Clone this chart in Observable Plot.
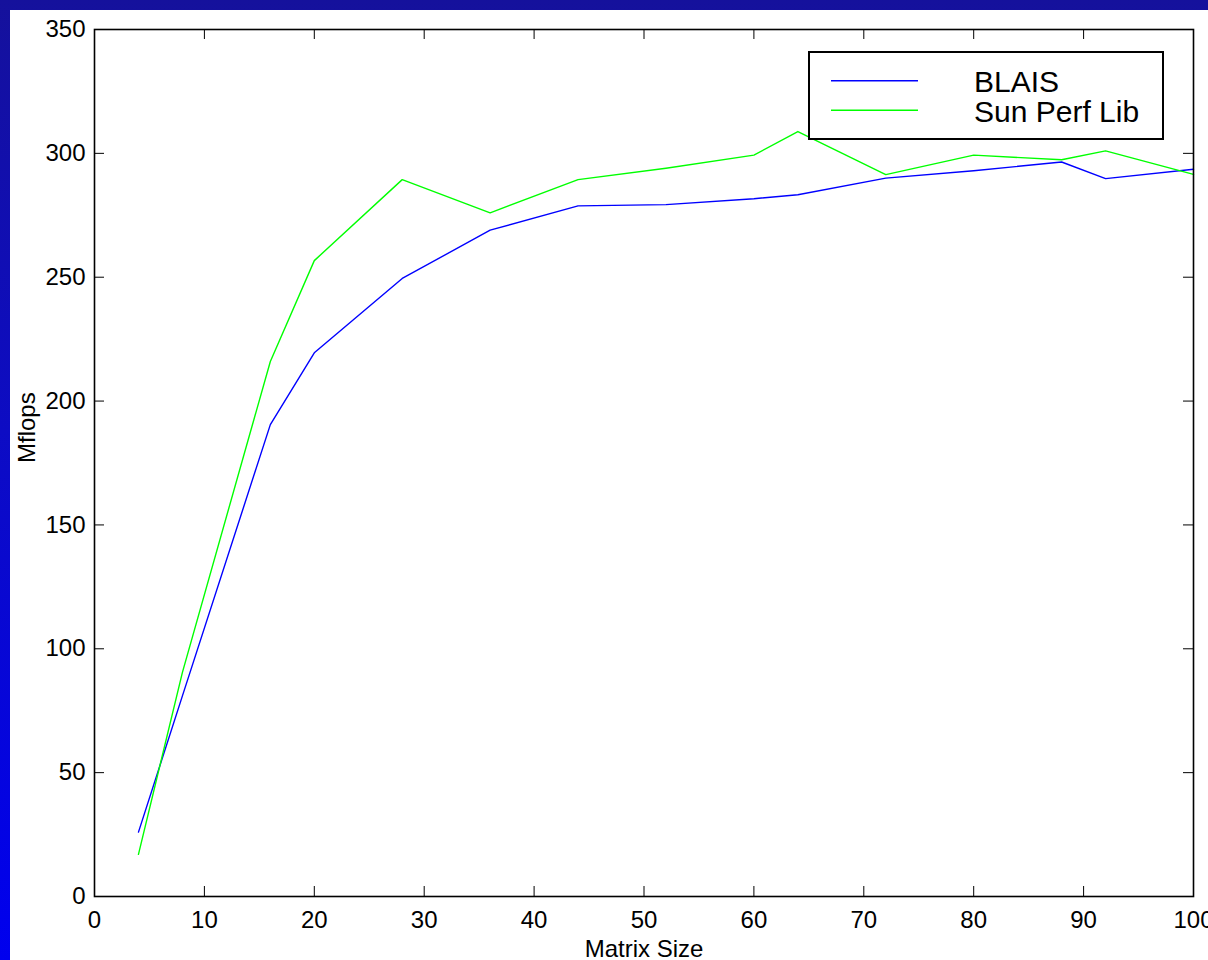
<!DOCTYPE html>
<html>
<head>
<meta charset="utf-8">
<script src="https://cdn.jsdelivr.net/npm/d3@7"></script>
<script src="https://cdn.jsdelivr.net/npm/@observablehq/plot@0.6"></script>
<style>
  html, body { margin: 0; padding: 0; }
  body {
    width: 1208px; height: 960px; overflow: hidden;
    background: linear-gradient(to bottom, #15119c 0%, #0d0cc4 45%, #0000ee 100%);
    position: relative;
    font-family: "Liberation Sans", Arial, Helvetica, sans-serif;
  }
  #chart { position: absolute; left: 10px; top: 10px; width: 1198px; height: 950px; background: white; }
  #legend {
    position: absolute; left: 808px; top: 51px; width: 356px; height: 89px;
    box-sizing: border-box; border: 2px solid black; background: white;
  }
</style>
</head>
<body>
<div id="chart"></div>
<div id="legend"></div>
<script>
// ---- data ----
const matrixSize = [4, 8, 16, 20, 28, 36, 44, 52, 60, 64, 72, 80, 88, 92, 100];
const blais      = [26, 81, 190.5, 219.5, 249.5, 269, 278.8, 279.3, 281.7, 283.3, 290, 293, 296.5, 289.8, 293.6];
const sunPerfLib = [17, 90.5, 216, 256.7, 289.4, 276, 289.4, 294, 299.3, 308.8, 291.4, 299.3, 297.4, 301, 291.5];
const seriesNames = ["BLAIS", "Sun Perf Lib"];
const seriesColors = ["#0000ff", "#00ff00"];
const xTicks = [0, 10, 20, 30, 40, 50, 60, 70, 80, 90, 100];
const yTicks = [0, 50, 100, 150, 200, 250, 300, 350];

const rows = [];
matrixSize.forEach((m, i) => {
  rows.push({size: m, mflops: blais[i], series: seriesNames[0]});
  rows.push({size: m, mflops: sunPerfLib[i], series: seriesNames[1]});
});

const W = 1198, H = 950;
const mL = 84, mR = 15, mT = 19, mB = 64;
const innerW = W - mL - mR, innerH = H - mT - mB;
const tickLen = 10;

const chart = Plot.plot({
  width: W, height: H,
  marginLeft: mL, marginRight: mR, marginTop: mT, marginBottom: mB,
  style: {fontSize: "24px", fontFamily: "'Liberation Sans', Arial, Helvetica, sans-serif", background: "white", color: "black"},
  x: {domain: [0, 100]},
  y: {domain: [0, 350]},
  color: {domain: seriesNames, range: seriesColors},
  marks: [
    Plot.axisX({ticks: xTicks, tickSize: 0, tickPadding: 14, tickFormat: d => String(d), label: null, fill: "black"}),
    Plot.axisY({ticks: yTicks, tickSize: 0, tickPadding: 9, tickFormat: d => String(d), label: null, fill: "black"}),
    // inward ticks on all four sides
    Plot.tickX(xTicks, {x: d => d, insetTop: innerH - tickLen, stroke: "black", strokeWidth: 1}),
    Plot.tickX(xTicks, {x: d => d, insetBottom: innerH - tickLen, stroke: "black", strokeWidth: 1}),
    Plot.tickY(yTicks, {y: d => d, insetRight: innerW - tickLen, stroke: "black", strokeWidth: 1}),
    Plot.tickY(yTicks, {y: d => d, insetLeft: innerW - tickLen, stroke: "black", strokeWidth: 1}),
    Plot.line(rows, {x: "size", y: "mflops", z: "series", stroke: "series", strokeWidth: 1.4}),
    Plot.frame({stroke: "black", strokeWidth: 1.6}),
    Plot.text(["Matrix Size"], {frameAnchor: "bottom", dy: 60, text: d => d, fill: "black", fontSize: 24}),
    Plot.text(["Mflops"], {frameAnchor: "left", dx: -67, rotate: -90, text: d => d, fill: "black", fontSize: 24})
  ]
});
document.getElementById("chart").appendChild(chart);

// legend (overlay box inside the axes, like the original)
const lg = d3.select("#legend").append("svg").attr("width", 352).attr("height", 85)
  .style("display", "block")
  .style("font-family", "'Liberation Sans', Arial, Helvetica, sans-serif");
seriesNames.forEach((name, i) => {
  const y = 27.7 + i * 29.5;
  lg.append("line").attr("x1", 21).attr("x2", 108).attr("y1", y).attr("y2", y)
    .attr("stroke", seriesColors[i]).attr("stroke-width", 1.4);
  lg.append("text").attr("x", 164).attr("y", 39 + i * 30).attr("font-size", 30).attr("fill", "black").text(name);
});
</script>
</body>
</html>
